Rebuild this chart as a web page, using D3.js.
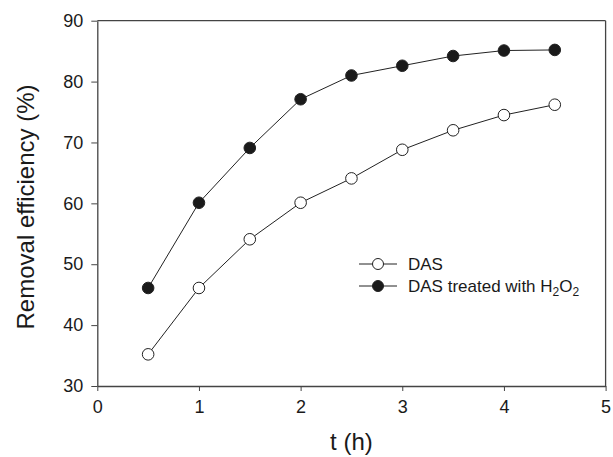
<!DOCTYPE html>
<html>
<head>
<meta charset="utf-8">
<script src="https://cdn.jsdelivr.net/npm/d3@7"></script>
<style>
  body { margin: 0; background: #fff; }
  svg { display: block; font-family: Arial, "Liberation Sans", sans-serif; }
</style>
</head>
<body>
<svg id="chart"></svg>
<script>
// data
const times = [0.5, 1, 1.5, 2, 2.5, 3, 3.5, 4, 4.5];
const dasValues = [35.2, 46.1, 54.1, 60.1, 64.1, 68.8, 72.0, 74.5, 76.2];
const treatedValues = [46.1, 60.1, 69.1, 77.1, 81.0, 82.6, 84.2, 85.1, 85.2];
const xTicks = [0, 1, 2, 3, 4, 5];
const yTicks = [30, 40, 50, 60, 70, 80, 90];

const config = {
  containerWidth: 613,
  containerHeight: 457,
  margin: { top: 20.7, right: 7.4, bottom: 71, left: 97.3 }
};

const width = config.containerWidth - config.margin.left - config.margin.right;
const height = config.containerHeight - config.margin.top - config.margin.bottom;

const svg = d3.select("#chart")
  .attr("width", config.containerWidth)
  .attr("height", config.containerHeight);

const g = svg.append("g")
  .attr("transform", `translate(${config.margin.left},${config.margin.top})`);

const xScale = d3.scaleLinear().domain([0, 5]).range([0, width]);
const yScale = d3.scaleLinear().domain([30, 90]).range([height, 0]);

const axisColor = "#444";

// axes
const xAxis = d3.axisBottom(xScale).tickValues(xTicks).tickFormat(d3.format("d"))
  .tickSize(5).tickSizeOuter(0).tickPadding(9);
const yAxis = d3.axisLeft(yScale).tickValues(yTicks).tickFormat(d3.format("d"))
  .tickSize(6).tickSizeOuter(0).tickPadding(8);

const xAxisGroup = g.append("g")
  .attr("transform", `translate(0,${height})`)
  .call(xAxis);
const yAxisGroup = g.append("g").call(yAxis);

[xAxisGroup, yAxisGroup].forEach(ax => {
  ax.select(".domain").attr("stroke", axisColor).attr("stroke-width", 1.3);
  ax.selectAll(".tick line").attr("stroke", axisColor).attr("stroke-width", 1);
  ax.selectAll(".tick text")
    .attr("fill", "#1a1a1a")
    .style("font-size", "18px")
    .style("font-family", "Arial, 'Liberation Sans', sans-serif");
});

// frame top and right
g.append("line")
  .attr("x1", 0).attr("x2", width).attr("y1", 0).attr("y2", 0)
  .attr("stroke", axisColor).attr("stroke-width", 1.3);
g.append("line")
  .attr("x1", width).attr("x2", width).attr("y1", 0).attr("y2", height)
  .attr("stroke", axisColor).attr("stroke-width", 1.3);

// axis titles
svg.append("text")
  .attr("x", config.margin.left + xScale(2.5))
  .attr("y", 450)
  .attr("text-anchor", "middle")
  .attr("fill", "#1a1a1a")
  .style("font-size", "24px")
  .text("t (h)");

svg.append("text")
  .attr("transform", `translate(34,207) rotate(-90)`)
  .attr("text-anchor", "middle")
  .attr("fill", "#1a1a1a")
  .style("font-size", "24px")
  .text("Removal efficiency (%)");

// series
const series = [
  { name: "DAS", values: dasValues, fill: "#fff" },
  { name: "treated", values: treatedValues, fill: "#1a1a1a" }
];

const line = d3.line()
  .x(d => xScale(d[0]))
  .y(d => yScale(d[1]));

series.forEach(s => {
  const pts = times.map((t, i) => [t, s.values[i]]);
  g.append("path")
    .datum(pts)
    .attr("fill", "none")
    .attr("stroke", "#222")
    .attr("stroke-width", 1)
    .attr("d", line);
  g.selectAll(null)
    .data(pts)
    .join("circle")
    .attr("cx", d => xScale(d[0]))
    .attr("cy", d => yScale(d[1]))
    .attr("r", 5.8)
    .attr("fill", s.fill)
    .attr("stroke", "#222")
    .attr("stroke-width", 1);
});

// legend
const legend = svg.append("g").attr("transform", "translate(359,264)");
const legendRows = [
  { fill: "#fff", label: "DAS" },
  { fill: "#1a1a1a", label: null }
];
legendRows.forEach((r, i) => {
  const row = legend.append("g").attr("transform", `translate(0,${i * 22})`);
  row.append("line")
    .attr("x1", 0).attr("x2", 38).attr("y1", 0).attr("y2", 0)
    .attr("stroke", "#222").attr("stroke-width", 1);
  row.append("circle")
    .attr("cx", 19).attr("cy", 0).attr("r", 5.5)
    .attr("fill", r.fill).attr("stroke", "#222").attr("stroke-width", 1);
  const txt = row.append("text")
    .attr("x", 49).attr("y", 6)
    .attr("fill", "#1a1a1a")
    .style("font-size", "17px");
  if (r.label) {
    txt.text(r.label);
  } else {
    txt.append("tspan").text("DAS treated with H");
    txt.append("tspan").attr("dy", 4).style("font-size", "12px").text("2");
    txt.append("tspan").attr("dy", -4).text("O");
    txt.append("tspan").attr("dy", 4).style("font-size", "12px").text("2");
  }
});
</script>
</body>
</html>
